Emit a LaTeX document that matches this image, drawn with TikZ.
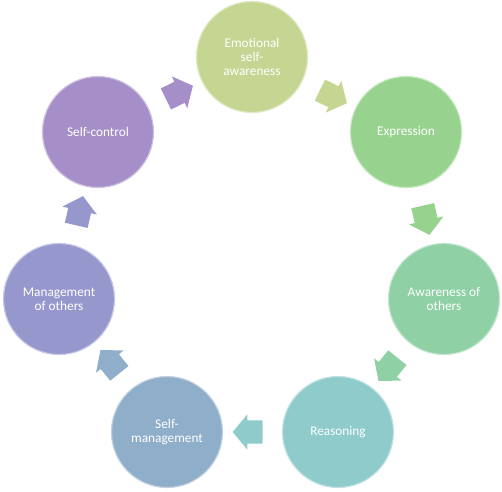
\documentclass[tikz,border=0pt]{standalone}
\usepackage{fontspec}
\setmainfont{Carlito}
\usetikzlibrary{shapes.arrows,calc}

\definecolor{emocol}{RGB}{196,214,146}
\definecolor{expcol}{RGB}{152,210,143}
\definecolor{awacol}{RGB}{143,208,165}
\definecolor{reacol}{RGB}{143,203,203}
\definecolor{smgcol}{RGB}{143,174,202}
\definecolor{mgocol}{RGB}{150,152,205}
\definecolor{sctcol}{RGB}{166,143,200}

\begin{document}
\begin{tikzpicture}[
    x=1pt, y=-1pt,
    stage/.style={circle, draw=#1!55!white, line width=1.2pt, fill=#1, minimum size=111pt, inner sep=0pt,
        text=white, align=center, font=\fontsize{13.3}{13.6}\selectfont},
    turn/.style={single arrow, fill=#1, draw=none, minimum height=30pt, inner xsep=0pt, inner ysep=11.5pt,
        single arrow head extend=6pt, single arrow tip angle=100}
]
    \useasboundingbox (0,0) rectangle (502,491);

    % Stages
    \node[stage=emocol] (emo) at (252,57) {Emotional\\self-\\awareness};
    \node[stage=expcol] (exp) at (406,132) {Expression};
    \node[stage=awacol] (awa) at (444,299) {Awareness of\\others};
    \node[stage=reacol] (rea) at (338,432) {Reasoning};
    \node[stage=smgcol] (smg) at (167,432) {Self-\\management};
    \node[stage=mgocol] (mgo) at (59,299) {Management\\of others};
    \node[stage=sctcol] (sct) at (98,132) {Self-control};

    % Arrows
    \node[turn=sctcol, rotate=26] (a1) at ($(sct)!0.5!(emo)$) {};
    \node[turn=emocol, rotate=-26] (a2) at ($(emo)!0.5!(exp)$) {};
    \node[turn=expcol, rotate=-77] (a3) at ($(exp)!0.5!(awa)$) {};
    \node[turn=awacol, rotate=-129] (a4) at ($(awa)!0.5!(rea)$) {};
    \node[turn=reacol, rotate=180] (a5) at ($(rea)!0.5!(smg)$) {};
    \node[turn=smgcol, rotate=129] (a6) at ($(smg)!0.5!(mgo)$) {};
    \node[turn=mgocol, rotate=77] (a7) at ($(mgo)!0.5!(sct)$) {};
\end{tikzpicture}
\end{document}
